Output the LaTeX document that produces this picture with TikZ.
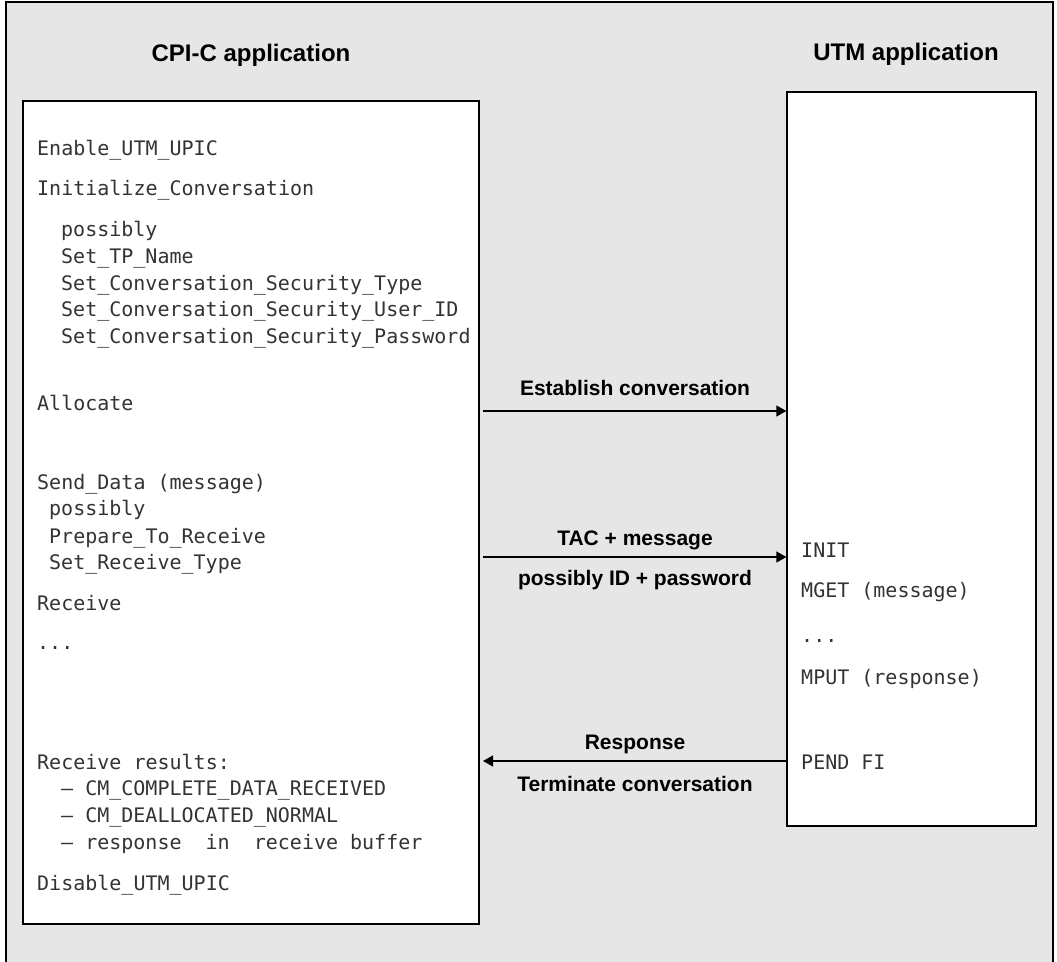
\documentclass[tikz,border=0pt]{standalone}
\usepackage{fontspec}
\setmainfont{Liberation Sans}
\setmonofont{DejaVu Sans Mono}
\usetikzlibrary{arrows.meta}
\definecolor{panelgray}{HTML}{E6E6E6}
\definecolor{codegray}{HTML}{333333}
\newcommand\codedots{...}

\begin{document}
\begin{tikzpicture}[x=1pt,y=-1pt,appbox/.style={draw, fill=white, line width=1.2pt, inner sep=0pt},title/.style={font=\fontsize{24}{28}\selectfont\bfseries, anchor=base},lbl/.style={font=\fontsize{21}{25}\selectfont\bfseries, anchor=base},code/.style={font=\fontsize{20}{24}\selectfont\ttfamily, text=codegray, anchor=base west, inner sep=0pt},flow/.style={line width=1.2pt, -{Triangle[length=10pt,width=11pt]}}]
\useasboundingbox (0,0) rectangle (1057,961);
\draw[fill=panelgray, line width=1.2pt] (6,2) rectangle (1053,975);
% the two applications
\node[appbox, minimum width=456pt, minimum height=823pt] (cpic) at (251,512.5) {};
\node[appbox, minimum width=249pt, minimum height=734pt] (utm) at (911.5,459) {};
\node[title] (cpic-title) at (251,61.5) {CPI-C application};
\node[title] (utm-title) at (906,60.5) {UTM application};
% calls of the CPI-C program
\foreach \xpos/\ypos/\txt [count=\i] in {37/155/Enable\_UTM\_UPIC, 37/195/Initialize\_Conversation, 61/236/possibly, 61/263/Set\_TP\_Name, 61/290/Set\_Conversation\_Security\_Type, 61/316/Set\_Conversation\_Security\_User\_ID, 61/343/Set\_Conversation\_Security\_Password, 37/410/Allocate, 37/489/Send\_Data (message), 49/515/possibly, 49/543/Prepare\_To\_Receive, 49/569/Set\_Receive\_Type, 37/610/Receive, 37/649/\codedots, 37/769/Receive results:, 61/795/–\ CM\_COMPLETE\_DATA\_RECEIVED, 61/822/–\ CM\_DEALLOCATED\_NORMAL, 61/849/–\ response\ \ in\ \ receive\ buffer, 37/890/Disable\_UTM\_UPIC}
  \node[code] (cpic-\i) at (\xpos,\ypos) {\txt};
% calls of the UTM program
\foreach \ypos/\txt [count=\i] in {557/INIT, 597/MGET (message), 642/\codedots, 684/MPUT (response), 769/PEND FI}
  \node[code] (utm-\i) at (801,\ypos) {\txt};
% messages
\coordinate (est) at (483,411);
\draw[flow] (est) -- (utm.west |- est);
\node[lbl] (est-lbl) at (635,395.5) {Establish conversation};
\coordinate (tac) at (483,557);
\draw[flow] (tac) -- (utm.west |- tac);
\node[lbl] (tac-lbl) at (635,545.5) {TAC + message};
\node[lbl] (id-lbl) at (635,585) {possibly ID + password};
\coordinate (resp) at (483,761);
\draw[flow] (utm.west |- resp) -- (resp);
\node[lbl] (resp-lbl) at (635,749.5) {Response};
\node[lbl] (term-lbl) at (635,791.5) {Terminate conversation};
\end{tikzpicture}
\end{document}
